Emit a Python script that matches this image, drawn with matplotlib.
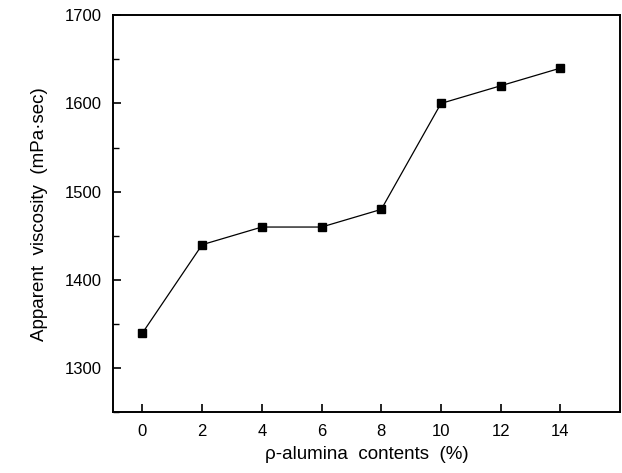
import matplotlib
matplotlib.use("Agg")
import matplotlib.pyplot as plt
from matplotlib.ticker import MultipleLocator

plt.rcParams['font.family'] = ['Liberation Sans', 'DejaVu Sans']

contents = [0, 2, 4, 6, 8, 10, 12, 14]
viscosity = [1340, 1440, 1460, 1460, 1480, 1600, 1620, 1640]

fig = plt.figure(figsize=(6.22, 4.73), dpi=100)
ax = fig.add_axes([0.181, 0.128, 0.816, 0.840])

ax.plot(contents, viscosity, '-', color='black', linewidth=0.9,
        marker='s', markersize=6, markerfacecolor='black', markeredgecolor='black')

ax.set_xlim(-1, 16)
ax.set_ylim(1250, 1700)
ax.set_xticks(contents)
ax.yaxis.set_minor_locator(MultipleLocator(50))
ax.set_yticks([1300, 1400, 1500, 1600, 1700])

ax.tick_params(axis='both', which='major', direction='in', length=6, width=1.2,
               labelsize=12, pad=8, top=False, right=False)
ax.tick_params(axis='y', which='minor', direction='in', length=4, width=1.0, right=False)

for s in ax.spines.values():
    s.set_linewidth(1.4)

ax.set_xlabel('\u03c1-alumina  contents  (%)', fontsize=13.5, labelpad=5)
ax.set_ylabel('Apparent  viscosity  (mPa\u00b7sec)', fontsize=13.5, labelpad=12)

fig.savefig('out.png', dpi=100)
